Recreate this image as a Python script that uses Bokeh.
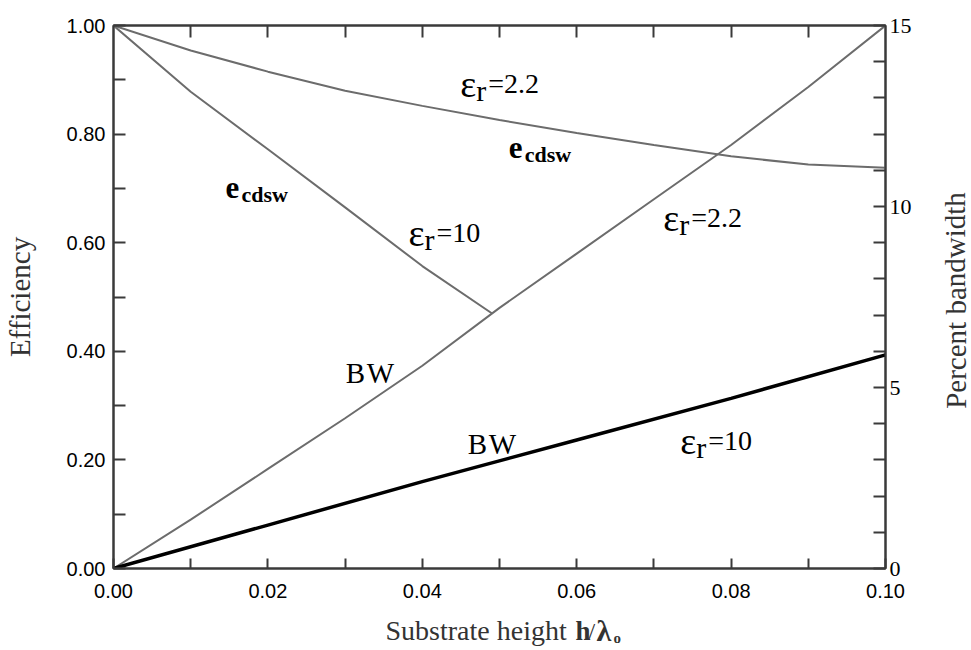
from bokeh.plotting import figure
from bokeh.layouts import row, column
from bokeh.models import Range1d, LinearAxis, FixedTicker, NumeralTickFormatter
from bokeh.core.properties import value
from bokeh.embed import file_html
from bokeh.resources import INLINE

# Conductor/dielectric/surface-wave efficiency, eps_r = 2.2
h_eff_22 = [0.00, 0.01, 0.02, 0.03, 0.04, 0.05, 0.06, 0.07, 0.08, 0.09, 0.10]
eff_22 = [1.000, 0.954, 0.915, 0.880, 0.852, 0.826, 0.802, 0.780, 0.759, 0.744, 0.738]

# Efficiency, eps_r = 10
h_eff_10 = [0.00, 0.01, 0.02, 0.03, 0.04, 0.049]
eff_10 = [1.000, 0.878, 0.772, 0.665, 0.557, 0.470]

# Percent bandwidth, eps_r = 2.2
h_bw_22 = [0.00, 0.01, 0.02, 0.03, 0.04, 0.05, 0.06, 0.07, 0.08, 0.09, 0.10]
bw_22 = [0.0, 1.35, 2.75, 4.15, 5.6, 7.2, 8.7, 10.2, 11.7, 13.3, 15.0]

# Percent bandwidth, eps_r = 10
h_bw_10 = [0.00, 0.02, 0.04, 0.06, 0.08, 0.10]
bw_10 = [0.0, 1.2, 2.4, 3.55, 4.7, 5.9]

# Axis ticks
x_major = [0.00, 0.02, 0.04, 0.06, 0.08, 0.10]
x_minor = [0.01, 0.03, 0.05, 0.07, 0.09]
x_top = [0.01, 0.02, 0.03, 0.04, 0.05, 0.06, 0.07, 0.08, 0.09]
eff_major = [0.0, 0.2, 0.4, 0.6, 0.8, 1.0]
eff_minor = [0.1, 0.3, 0.5, 0.7, 0.9]
bw_major = [0, 5, 10, 15]
bw_minor = [1, 2, 3, 4, 6, 7, 8, 9, 11, 12, 13, 14]

SERIF = "Liberation Serif"
SANS = "Liberation Sans"
AXIS_COL = "#3a3a3a"
GRAY = "#6c6c6c"
TITLE_COL = "#333333"

MAIN_W, MAIN_H = 931, 610
SIDE_W = 971 - MAIN_W
TITLE_H = 650 - MAIN_H
FRAME_L, FRAME_R, FRAME_T, FRAME_B = 113, 885, 25, 568

p = figure(width=MAIN_W, height=MAIN_H, output_backend="svg", toolbar_location=None,
           x_range=Range1d(0, 0.1), y_range=Range1d(0, 1.0),
           x_axis_location=None, y_axis_location=None,
           min_border_left=FRAME_L, min_border_right=MAIN_W - FRAME_R,
           min_border_top=FRAME_T, min_border_bottom=MAIN_H - FRAME_B)
p.extra_y_ranges = {"bw": Range1d(0, 15)}
p.grid.visible = False
p.outline_line_color = AXIS_COL
p.outline_line_width = 2
p.background_fill_color = "white"
p.border_fill_color = "white"


def style_axis(ax, tick_len):
    ax.axis_line_color = AXIS_COL
    ax.axis_line_width = 2
    ax.major_tick_line_color = AXIS_COL
    ax.minor_tick_line_color = AXIS_COL
    ax.major_tick_line_width = 2
    ax.minor_tick_line_width = 2
    ax.major_tick_in = tick_len
    ax.major_tick_out = 0
    ax.minor_tick_in = tick_len
    ax.minor_tick_out = 0
    ax.major_label_text_color = "black"


left = LinearAxis(ticker=FixedTicker(ticks=eff_major, minor_ticks=eff_minor),
                  formatter=NumeralTickFormatter(format="0.00"),
                  axis_label="Efficiency")
style_axis(left, 12)
left.major_label_text_font = SANS
left.major_label_text_font_size = "20px"
left.major_label_standoff = 8
left.axis_label_text_font = SERIF
left.axis_label_text_font_style = "normal"
left.axis_label_text_font_size = "29px"
left.axis_label_text_color = TITLE_COL
left.axis_label_standoff = 28
p.add_layout(left, "left")

right = LinearAxis(y_range_name="bw",
                   ticker=FixedTicker(ticks=bw_major, minor_ticks=bw_minor))
style_axis(right, 12)
right.major_label_text_font = SERIF
right.major_label_text_font_size = "22px"
right.major_label_standoff = 4
p.add_layout(right, "right")

bottom = LinearAxis(ticker=FixedTicker(ticks=x_major, minor_ticks=x_minor),
                    formatter=NumeralTickFormatter(format="0.00"))
style_axis(bottom, 10)
bottom.major_label_text_font = SANS
bottom.major_label_text_font_size = "20px"
bottom.major_label_standoff = 15
p.add_layout(bottom, "below")

# Top edge carries tick marks only
top = LinearAxis(ticker=FixedTicker(ticks=[], minor_ticks=x_top))
style_axis(top, 12)
p.add_layout(top, "above")

# Curves
p.line(h_eff_22, eff_22, line_color=GRAY, line_width=2)
p.line(h_eff_10, eff_10, line_color=GRAY, line_width=2)
p.line(h_bw_22, bw_22, line_color=GRAY, line_width=2, y_range_name="bw")
p.line(h_bw_10, bw_10, line_color="black", line_width=3.5, y_range_name="bw")


def txt(fig, x, y, s, size, dx=0, dy=0, bold=False, color="black", **kw):
    fig.text(x=[x], y=[y], text=[s], x_offset=dx, y_offset=dy,
             text_font=value(SERIF), text_font_size=size,
             text_font_style="bold" if bold else "normal",
             text_color=color, **kw)


def eps_label(x, y, val):
    txt(p, x, y, "\u03b5", "38px", text_baseline="alphabetic")
    txt(p, x, y, "r", "30px", dx=16, dy=7, text_baseline="alphabetic")
    txt(p, x, y, "=" + val, "28px", dx=28, text_baseline="alphabetic")


def ecdsw_label(x, y):
    txt(p, x, y, "e", "31px", bold=True, text_baseline="alphabetic")
    txt(p, x, y, "cdsw", "22px", dx=16, dy=7, bold=True, text_baseline="alphabetic")


def bw_label(x, y):
    txt(p, x, y, "B", "29px", text_baseline="alphabetic")
    txt(p, x, y, "W", "29px", dx=21, text_baseline="alphabetic")


eps_label(0.0449, 0.893, "2.2")
eps_label(0.0712, 0.646, "2.2")
eps_label(0.0382, 0.618, "10")
eps_label(0.0734, 0.235, "10")
ecdsw_label(0.0145, 0.701)
ecdsw_label(0.0512, 0.775)
bw_label(0.0301, 0.36)
bw_label(0.0459, 0.23)


def text_panel(w, h, xr):
    f = figure(width=w, height=h, output_backend="svg", toolbar_location=None,
               x_range=xr, y_range=Range1d(0, h),
               x_axis_location=None, y_axis_location=None, min_border=0)
    f.grid.visible = False
    f.outline_line_color = None
    f.background_fill_color = "white"
    f.border_fill_color = "white"
    return f


# Horizontal axis title: Substrate height h/lambda_0
# (this panel's frame lines up with the main frame, so x is in page pixels)
t = text_panel(MAIN_W, TITLE_H, Range1d(FRAME_L, FRAME_R))
base = TITLE_H - 20
for s, x, y, size, bold in [("Substrate height", 385, base, "28px", False),
                            ("h", 575, base, "27px", True),
                            ("/", 588, base, "24px", False),
                            ("\u03bb", 596, base, "30px", True),
                            ("o", 613, base - 7, "15px", True)]:
    txt(t, x, y, s, size, bold=bold, color=TITLE_COL, text_baseline="alphabetic")

# Right-hand axis title: Percent bandwidth
r = text_panel(SIDE_W, 650, Range1d(0, SIDE_W))
txt(r, 955 - MAIN_W, 650 - 300, "Percent bandwidth", "29px", color=TITLE_COL,
    angle=1.5708, text_align="center", text_baseline="middle")

layout = row(column(p, t), r)
open("out.html", "w").write(file_html(layout, INLINE))
